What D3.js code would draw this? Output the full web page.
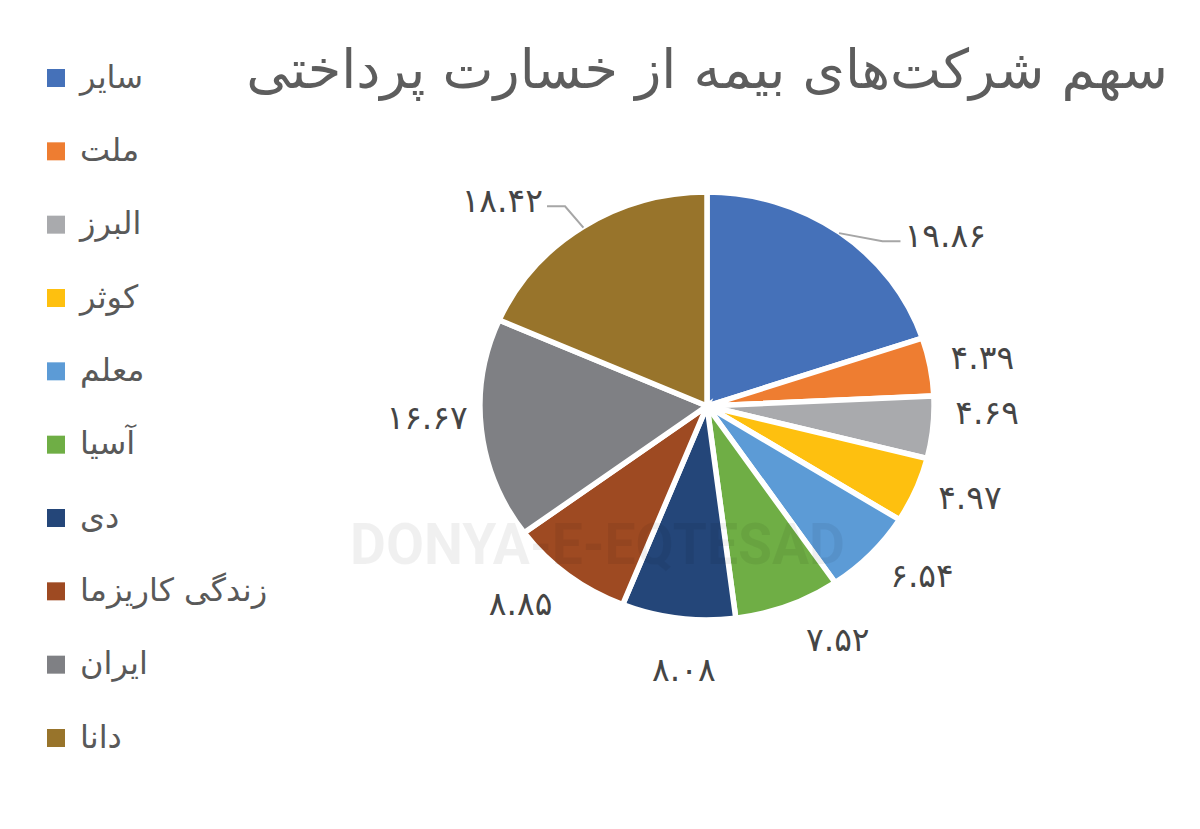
<!DOCTYPE html>
<html><head><meta charset="utf-8">
<script src="https://cdn.jsdelivr.net/npm/d3@7"></script>
<style>body{margin:0;background:#fff;} svg{display:block}</style>
</head><body><svg id="c" width="1200" height="829"></svg>
<script>
const categories = ["سایر","ملت","البرز","کوثر","معلم","آسیا","دی","زندگی کاریزما","ایران","دانا"];
const values = [19.86,4.39,4.69,4.97,6.54,7.52,8.08,8.85,16.67,18.42];
const colors = ["#4571b9","#ee7d31","#a9aaad","#fec00f","#5c9bd6","#6fae45","#244679","#9e4a22","#7f8084","#98742b"];
const titleText = "سهم شرکت‌های بیمه از خسارت پرداختی";
const watermarkLatin = "DONYA-E-EQTESAD";

// label layout tweaks (degrees) and which labels use leader lines
const labelAngleOffset = [17,0,-4.5,-3,-4,-7,-2.5,4,4,-10];
const leaderLabels = ["سایر","دانا"];

const faDigits = s => s.replace(/[0-9]/g, d => "۰۱۲۳۴۵۶۷۸۹"[+d]);
const FONT = "'DejaVu Sans','Noto Sans',sans-serif";

const svg = d3.select("#c");
const cx = 707, cy = 406, R = 214, sx = 1.061;

// title
const title = svg.append("text")
  .attr("x", 1168).attr("y", 88)
  .attr("text-anchor","end")
  .attr("font-family", FONT).attr("font-size", 50)
  .attr("fill","#5d5d5d").text(titleText);
{
  const w = title.node().getComputedTextLength();
  title.attr("font-size", 50 * 922 / w);
}

// legend
const legend = svg.append("g");
const ly = d3.scalePoint().domain(categories).range([78, 738]);
categories.forEach((c,i) => {
  const g = legend.append("g").attr("transform", `translate(0,${ly(c)})`);
  g.append("rect").attr("x",47).attr("y",-9).attr("width",18).attr("height",18).attr("fill",colors[i]);
  g.append("text").attr("x",80).attr("y",0).attr("dy","0.3em")
    .attr("font-family",FONT).attr("font-size",32).attr("fill","#595959").text(c);
});

// pie
const pie = d3.pie().sort(null).value(d=>d);
const arcs = pie(values);
const arc = d3.arc().innerRadius(0).outerRadius(R);
const pg = svg.append("g").attr("transform", `translate(${cx},${cy}) scale(${sx},1)`);
pg.selectAll("path").data(arcs).join("path")
  .attr("d", arc).attr("fill",(d,i)=>colors[i])
  .attr("stroke","#fff").attr("stroke-width",5.5).attr("vector-effect","non-scaling-stroke");

// watermark overlay (faint, above pie)
svg.append("text").attr("x", 350).attr("y", 564)
  .attr("font-family","Roboto, 'Open Sans', sans-serif").attr("font-weight",700)
  .attr("font-size",58).attr("textLength",495).attr("lengthAdjust","spacingAndGlyphs")
  .attr("fill","#000").attr("fill-opacity",0.06).text(watermarkLatin);

// labels
const pt = (a, r) => [cx + r*Math.sin(a)*sx, cy - r*Math.cos(a)];
const lg = svg.append("g");
arcs.forEach((d,i) => {
  const mid = (d.startAngle + d.endAngle)/2;
  const lead = leaderLabels.includes(categories[i]);
  const a = mid + labelAngleOffset[i]*Math.PI/180;
  const [x,y] = pt(a, lead ? 282 : 264);
  const t = lg.append("text").attr("x",x).attr("y",y).attr("dy","0.36em")
    .attr("text-anchor","middle").attr("font-family",FONT).attr("font-size",33)
    .attr("fill","#454545").text(faDigits(values[i].toFixed(2)));
  if (lead) {
    const w = t.node().getComputedTextLength();
    const [sx0, sy0] = pt(mid, R - 1);
    const right = Math.sin(mid) > 0;
    const ex = right ? x - w/2 - 4 : x + w/2 + 4;
    const ey = y + 6;
    const bx = right ? ex - 18 : ex + 18;
    lg.append("polyline").attr("points", `${sx0},${sy0} ${bx},${ey} ${ex},${ey}`)
      .attr("fill","none").attr("stroke","#a6a6a6").attr("stroke-width",2);
  }
});
</script></body></html>
